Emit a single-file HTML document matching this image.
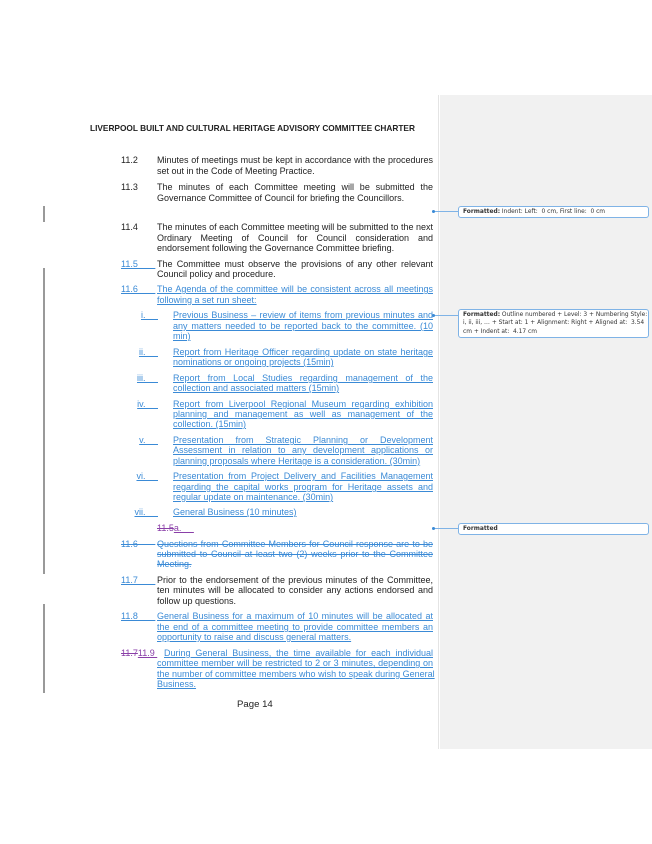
<!DOCTYPE html>
<html><head><meta charset="utf-8"><style>
body{margin:0;width:652px;height:844px;position:relative;background:#fff;font-family:"Liberation Sans",Arial,sans-serif;color:#222;overflow:hidden}
.l{position:absolute;font-size:9px;line-height:12px;white-space:nowrap}
.t{left:157px;width:276px;text-align:justify;text-align-last:justify}
.s{left:173px;width:260px;text-align:justify;text-align-last:justify}
.e{text-align-last:left}
.n{left:121px}
.r{width:40px;text-align:right}
.b{color:#3a8ad6;text-decoration:underline}
.d{color:#3a8ad6;text-decoration:line-through}
.p{color:#8a3fa8}
.bar{position:absolute;left:43px;width:2px;background:#999}
.box{position:absolute;left:458px;width:191px;border:1px solid #7fb3e6;border-radius:3px;background:#fff;line-height:8.3px;padding:1px 0 1px 4px;color:#333;box-sizing:border-box;white-space:nowrap;font-family:"DejaVu Sans","Liberation Sans",sans-serif;font-size:5.9px;overflow:hidden}
.con{position:absolute;left:434px;height:1px;background:#7fb3e6}
.dot{position:absolute;left:432px;width:3px;height:3px;border-radius:2px;background:#3a8ad6}
</style></head><body>
<div style="position:absolute;left:440px;top:95px;width:212px;height:654px;background:#f1f1f1"></div>
<div style="position:absolute;left:438px;top:95px;width:1px;height:654px;background:#e4e4e4"></div>
<div class="bar" style="top:206px;height:16px"></div>
<div class="bar" style="top:268px;height:306px"></div>
<div class="bar" style="top:604px;height:89px"></div>

<div class="l" style="left:90px;top:122px;font-weight:bold;font-size:8.3px">LIVERPOOL BUILT AND CULTURAL HERITAGE ADVISORY COMMITTEE CHARTER</div>

<div class="l n" style="top:154px">11.2</div>
<div class="l t" style="top:154px">Minutes of meetings must be kept in accordance with the procedures</div>
<div class="l t e" style="top:165px">set out in the Code of Meeting Practice.</div>

<div class="l n" style="top:181px">11.3</div>
<div class="l t" style="top:181px">The minutes of each Committee meeting will be submitted the</div>
<div class="l t e" style="top:192px">Governance Committee of Council for briefing the Councillors.</div>

<div class="l n" style="top:221px">11.4</div>
<div class="l t" style="top:221px">The minutes of each Committee meeting will be submitted to the next</div>
<div class="l t" style="top:232px">Ordinary Meeting of Council for Council consideration and</div>
<div class="l t e" style="top:242px">endorsement following the Governance Committee briefing.</div>

<div class="l n b" style="top:258px">11.5&nbsp;&nbsp;&nbsp;&nbsp;&nbsp;&nbsp;&nbsp;</div>
<div class="l t" style="top:258px">The Committee must observe the provisions of any other relevant</div>
<div class="l t e" style="top:268px">Council policy and procedure.</div>

<div class="l n b" style="top:283px">11.6&nbsp;&nbsp;&nbsp;&nbsp;&nbsp;&nbsp;&nbsp;</div>
<div class="l t b" style="top:283px">The Agenda of the committee will be consistent across all meetings</div>
<div class="l t e b" style="top:294px">following a set run sheet:</div>

<div class="l r b" style="left:118px;top:309px">i.&nbsp;&nbsp;&nbsp;&nbsp;&nbsp;</div>
<div class="l s b" style="top:309px">Previous Business – review of items from previous minutes and</div>
<div class="l s b" style="top:320px">any matters needed to be reported back to the committee. (10</div>
<div class="l s e b" style="top:330px">min)</div>

<div class="l r b" style="left:118px;top:346px">ii.&nbsp;&nbsp;&nbsp;&nbsp;&nbsp;</div>
<div class="l s b" style="top:346px">Report from Heritage Officer regarding update on state heritage</div>
<div class="l s e b" style="top:356px">nominations or ongoing projects (15min)</div>

<div class="l r b" style="left:118px;top:372px">iii.&nbsp;&nbsp;&nbsp;&nbsp;&nbsp;</div>
<div class="l s b" style="top:372px">Report from Local Studies regarding management of the</div>
<div class="l s e b" style="top:382px">collection and associated matters (15min)</div>

<div class="l r b" style="left:118px;top:398px">iv.&nbsp;&nbsp;&nbsp;&nbsp;&nbsp;</div>
<div class="l s b" style="top:398px">Report from Liverpool Regional Museum regarding exhibition</div>
<div class="l s b" style="top:408px">planning and management as well as management of the</div>
<div class="l s e b" style="top:418px">collection. (15min)</div>

<div class="l r b" style="left:118px;top:434px">v.&nbsp;&nbsp;&nbsp;&nbsp;&nbsp;</div>
<div class="l s b" style="top:434px">Presentation from Strategic Planning or Development</div>
<div class="l s b" style="top:444px">Assessment in relation to any development applications or</div>
<div class="l s e b" style="top:455px">planning proposals where Heritage is a consideration. (30min)</div>

<div class="l r b" style="left:118px;top:470px">vi.&nbsp;&nbsp;&nbsp;&nbsp;&nbsp;</div>
<div class="l s b" style="top:470px">Presentation from Project Delivery and Facilities Management</div>
<div class="l s b" style="top:481px">regarding the capital works program for Heritage assets and</div>
<div class="l s e b" style="top:491px">regular update on maintenance. (30min)</div>

<div class="l r b" style="left:118px;top:506px">vii.&nbsp;&nbsp;&nbsp;&nbsp;&nbsp;</div>
<div class="l s e b" style="top:506px">General Business (10 minutes)</div>

<div class="l p" style="left:157px;top:522px"><span style="text-decoration:line-through">11.5</span><span style="text-decoration:underline">a.&nbsp;&nbsp;&nbsp;&nbsp;&nbsp;</span></div>

<div class="l n d" style="top:538px">11.6&nbsp;&nbsp;&nbsp;&nbsp;&nbsp;&nbsp;&nbsp;</div>
<div class="l t d" style="top:538px">Questions from Committee Members for Council response are to be</div>
<div class="l t d" style="top:548px">submitted to Council at least two (2) weeks prior to the Committee</div>
<div class="l t e d" style="top:558px">Meeting.</div>

<div class="l n b" style="top:574px">11.7&nbsp;&nbsp;&nbsp;&nbsp;&nbsp;&nbsp;&nbsp;</div>
<div class="l t" style="top:574px">Prior to the endorsement of the previous minutes of the Committee,</div>
<div class="l t" style="top:584px">ten minutes will be allocated to consider any actions endorsed and</div>
<div class="l t e" style="top:595px">follow up questions.</div>

<div class="l n b" style="top:610px">11.8&nbsp;&nbsp;&nbsp;&nbsp;&nbsp;&nbsp;&nbsp;</div>
<div class="l t b" style="top:610px">General Business for a maximum of 10 minutes will be allocated at</div>
<div class="l t b" style="top:621px">the end of a committee meeting to provide committee members an</div>
<div class="l t e b" style="top:631px">opportunity to raise and discuss general matters.</div>

<div class="l n p" style="top:647px"><span style="text-decoration:line-through">11.7</span><span style="text-decoration:underline">11.9&nbsp;</span></div>
<div class="l b" style="left:164px;width:269px;top:647px;text-align:justify;text-align-last:justify">During General Business, the time available for each individual</div>
<div class="l t b" style="top:657px">committee member will be restricted to 2 or 3 minutes, depending on</div>
<div class="l t b" style="top:668px">the number of committee members who wish to speak during General</div>
<div class="l t e b" style="top:678px">Business.</div>

<div class="l" style="left:237px;top:699px;font-size:9.6px">Page 14</div>

<div class="con" style="top:211px;width:24px"></div><div class="dot" style="top:210px"></div>
<div class="box" style="top:206px;height:12px"><b>Formatted:</b> Indent: Left:&nbsp; 0 cm, First line:&nbsp; 0 cm</div>
<div class="con" style="top:315px;width:24px"></div><div class="dot" style="top:314px"></div>
<div class="box" style="top:309px;height:29px"><b>Formatted:</b> Outline numbered + Level: 3 + Numbering Style:<br>i, ii, iii, … + Start at: 1 + Alignment: Right + Aligned at:&nbsp; 3.54<br>cm + Indent at:&nbsp; 4.17 cm</div>
<div class="con" style="top:528px;width:24px"></div><div class="dot" style="top:527px"></div>
<div class="box" style="top:523px;height:12px"><b>Formatted</b></div>
</body></html>
